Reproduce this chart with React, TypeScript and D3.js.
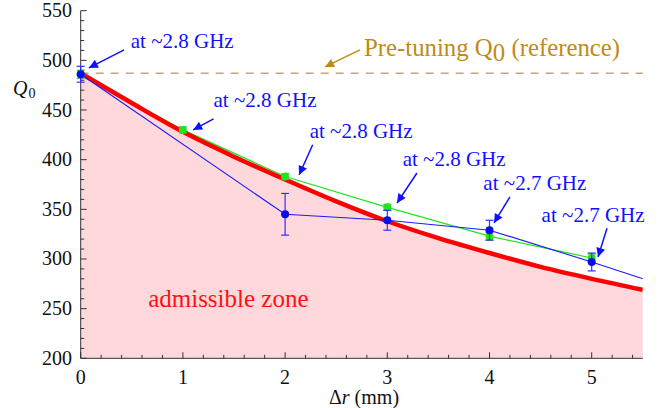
import React from 'react';
import * as d3 from 'd3';

// measured series
const xMeas = [0, 1, 2, 3, 4, 5];
const greenVals = [486, 430, 383, 352, 323, 301];
const greenErr = [4, 3, 3, 3, 4, 4];

const blueX = [0, 2, 3, 4, 5];
const blueVals = [486, 345, 339, 329, 297];
const blueErr = [8, 21, 10, 10, 9];
// line continues past the last marker
const blueTailX = 5.5;
const blueTailVal = 280;

// admissible boundary curve (sampled)
const redX = [0, 0.5, 1, 1.5, 2, 2.5, 3, 3.5, 4, 4.5, 5, 5.5];
const redVals = [487, 457, 428, 403, 380, 358, 338, 321, 306, 292, 280, 269];

const refQ0 = 487;

const xTicks = [0, 1, 2, 3, 4, 5];
const yTicks = [200, 250, 300, 350, 400, 450, 500, 550];

// annotation labels: text start, arrow tail, arrow tip (data coords)
const noteText = ['at ~2.8 GHz', 'at ~2.8 GHz', 'at ~2.8 GHz', 'at ~2.8 GHz', 'at ~2.7 GHz', 'at ~2.7 GHz'];
const noteTextPos: [number, number][] = [[0.49, 512.5], [1.30, 453], [2.24, 422], [3.15, 394], [3.94, 369], [4.51, 337.5]];
const noteTail: [number, number][] = [[0.425, 510.5], [1.30, 441], [2.27, 415], [3.29, 386.6], [4.2, 362.5], [5.15, 331]];
const noteTip: [number, number][] = [[0.08, 492.4], [1.10, 430], [2.137, 384.6], [3.095, 356.4], [4.044, 336.3], [5.062, 302]];

const font = "'Liberation Serif', 'Times New Roman', serif";
const blue = '#1010ff';
const gold = '#c08a18';

type Pt = [number, number];

const App: React.FC = () => {
  const width = 664;
  const height = 408;
  const x = d3.scaleLinear().domain([0, 5.5]).range([80.7, 642.8]);
  const y = d3.scaleLinear().domain([200, 550]).range([358.3, 10.7]);

  const redPts: Pt[] = redX.map((d, i) => [d, redVals[i]]);
  const greenPts: Pt[] = xMeas.map((d, i) => [d, greenVals[i]]);
  const bluePts: Pt[] = blueX.map((d, i) => [d, blueVals[i]]);

  const area = d3.area<Pt>().x(d => x(d[0])).y0(y(200)).y1(d => y(d[1])).curve(d3.curveMonotoneX);
  const smooth = d3.line<Pt>().x(d => x(d[0])).y(d => y(d[1])).curve(d3.curveMonotoneX);
  const line = d3.line<Pt>().x(d => x(d[0])).y(d => y(d[1]));

  const xMinor = d3.range(0, 5.5001, 0.2);
  const yMinor = d3.range(200, 550.001, 10);

  const errBar = (p: Pt, e: number, color: string, key: string) => (
    <g key={key} stroke={color} strokeWidth={1.2}>
      <line x1={x(p[0])} x2={x(p[0])} y1={y(p[1] - e)} y2={y(p[1] + e)} />
      <line x1={x(p[0]) - 4} x2={x(p[0]) + 4} y1={y(p[1] - e)} y2={y(p[1] - e)} />
      <line x1={x(p[0]) - 4} x2={x(p[0]) + 4} y1={y(p[1] + e)} y2={y(p[1] + e)} />
    </g>
  );

  return (
    <svg
      width={width}
      height={height}
      style={{ position: 'absolute', left: 0, top: 0, background: '#fff', fontFamily: font }}
    >
      <defs>
        <clipPath id="plot-clip">
          <rect x={x(0)} y={y(550)} width={x(5.5) - x(0)} height={y(200) - y(550)} />
        </clipPath>
        <marker id="arrow-blue" viewBox="0 0 10 10" refX={10} refY={5} markerWidth={12} markerHeight={9}
          markerUnits="userSpaceOnUse" orient="auto">
          <path d="M0,0 L10,5 L0,10 z" fill={blue} />
        </marker>
        <marker id="arrow-gold" viewBox="0 0 10 10" refX={10} refY={5} markerWidth={12} markerHeight={9}
          markerUnits="userSpaceOnUse" orient="auto">
          <path d="M0,0 L10,5 L0,10 z" fill={gold} />
        </marker>
      </defs>

      {/* admissible zone */}
      <path d={area(redPts) ?? ''} fill="#ffd8db" />

      {/* pre-tuning reference */}
      <line x1={x(0)} x2={x(5.5)} y1={y(refQ0)} y2={y(refQ0)}
        stroke="#c8a47c" strokeWidth={1.6} strokeDasharray="8,7" />

      {/* axes */}
      <g stroke="#333" strokeWidth={1}>
        <line x1={x(0)} x2={x(5.5)} y1={y(200)} y2={y(200)} />
        <line x1={x(0)} x2={x(0)} y1={y(200)} y2={y(550)} />
        {xMinor.map(v => {
          const major = Math.abs(v - Math.round(v)) < 1e-6;
          return <line key={'xt' + v} x1={x(v)} x2={x(v)} y1={y(200)} y2={y(200) - (major ? 6 : 3.5)} />;
        })}
        {yMinor.map(v => {
          const major = Math.round(v) % 50 === 0;
          return <line key={'yt' + v} y1={y(v)} y2={y(v)} x1={x(0)} x2={x(0) + (major ? 6 : 3.5)} />;
        })}
      </g>
      {xTicks.map(v => (
        <text key={'xl' + v} x={x(v)} y={384} textAnchor="middle" fontSize={20} fill="#111"
          style={{ fontFamily: font }}>{v}</text>
      ))}
      {yTicks.map(v => (
        <text key={'yl' + v} x={72} y={y(v) + 6.5} textAnchor="end" fontSize={20} fill="#111"
          style={{ fontFamily: font }}>{v}</text>
      ))}

      <text x={13} y={95} fontSize={20} fill="#111" style={{ fontFamily: font }}>
        <tspan fontStyle="italic">Q</tspan>
        <tspan fontSize={14} dy={2.5} dx={1}>0</tspan>
      </text>
      <text x={364} y={404} textAnchor="middle" fontSize={20} fill="#111" style={{ fontFamily: font }}>
        <tspan>{'\u0394'}</tspan>
        <tspan fontStyle="italic">r</tspan>
        <tspan> (mm)</tspan>
      </text>

      <g clipPath="url(#plot-clip)">
        <path d={line(greenPts) ?? ''} fill="none" stroke="#22e322" strokeWidth={1.2} />
        <path d={smooth(redPts) ?? ''} fill="none" stroke="#ff0000" strokeWidth={4.5} />
        <path d={line([...bluePts, [blueTailX, blueTailVal]]) ?? ''} fill="none" stroke="#1a1aff" strokeWidth={1.1} />
      </g>

      {greenPts.map((p, i) => errBar(p, greenErr[i], '#22cc22', 'ge' + i))}
      {greenPts.map((p, i) => <circle key={'gc' + i} cx={x(p[0])} cy={y(p[1])} r={4} fill="#22e322" />)}
      {bluePts.map((p, i) => errBar(p, blueErr[i], '#3030ff', 'be' + i))}
      {bluePts.map((p, i) => <circle key={'bc' + i} cx={x(p[0])} cy={y(p[1])} r={4} fill="#0a0aee" />)}

      {/* annotations */}
      {noteText.map((t, i) => (
        <g key={'n' + i}>
          <line x1={x(noteTail[i][0])} y1={y(noteTail[i][1])} x2={x(noteTip[i][0])} y2={y(noteTip[i][1])}
            stroke={blue} strokeWidth={1.5} markerEnd="url(#arrow-blue)" />
          <text x={x(noteTextPos[i][0])} y={y(noteTextPos[i][1])} fontSize={21} fill={blue}
            style={{ fontFamily: font }}>{t}</text>
        </g>
      ))}

      <line x1={x(2.733)} y1={y(510.5)} x2={x(2.39)} y2={y(493.4)}
        stroke={gold} strokeWidth={1.5} markerEnd="url(#arrow-gold)" />
      <text x={x(2.772)} y={y(504.4)} fontSize={24.8} fill={gold} style={{ fontFamily: font }}>
        <tspan>Pre-tuning Q</tspan>
        <tspan dy={5}>0</tspan>
        <tspan dy={-5}> (reference)</tspan>
      </text>

      <text x={x(0.66)} y={y(252)} fontSize={25} fill="#ff1010" style={{ fontFamily: font }}>
        admissible zone
      </text>
    </svg>
  );
};

export default App;
